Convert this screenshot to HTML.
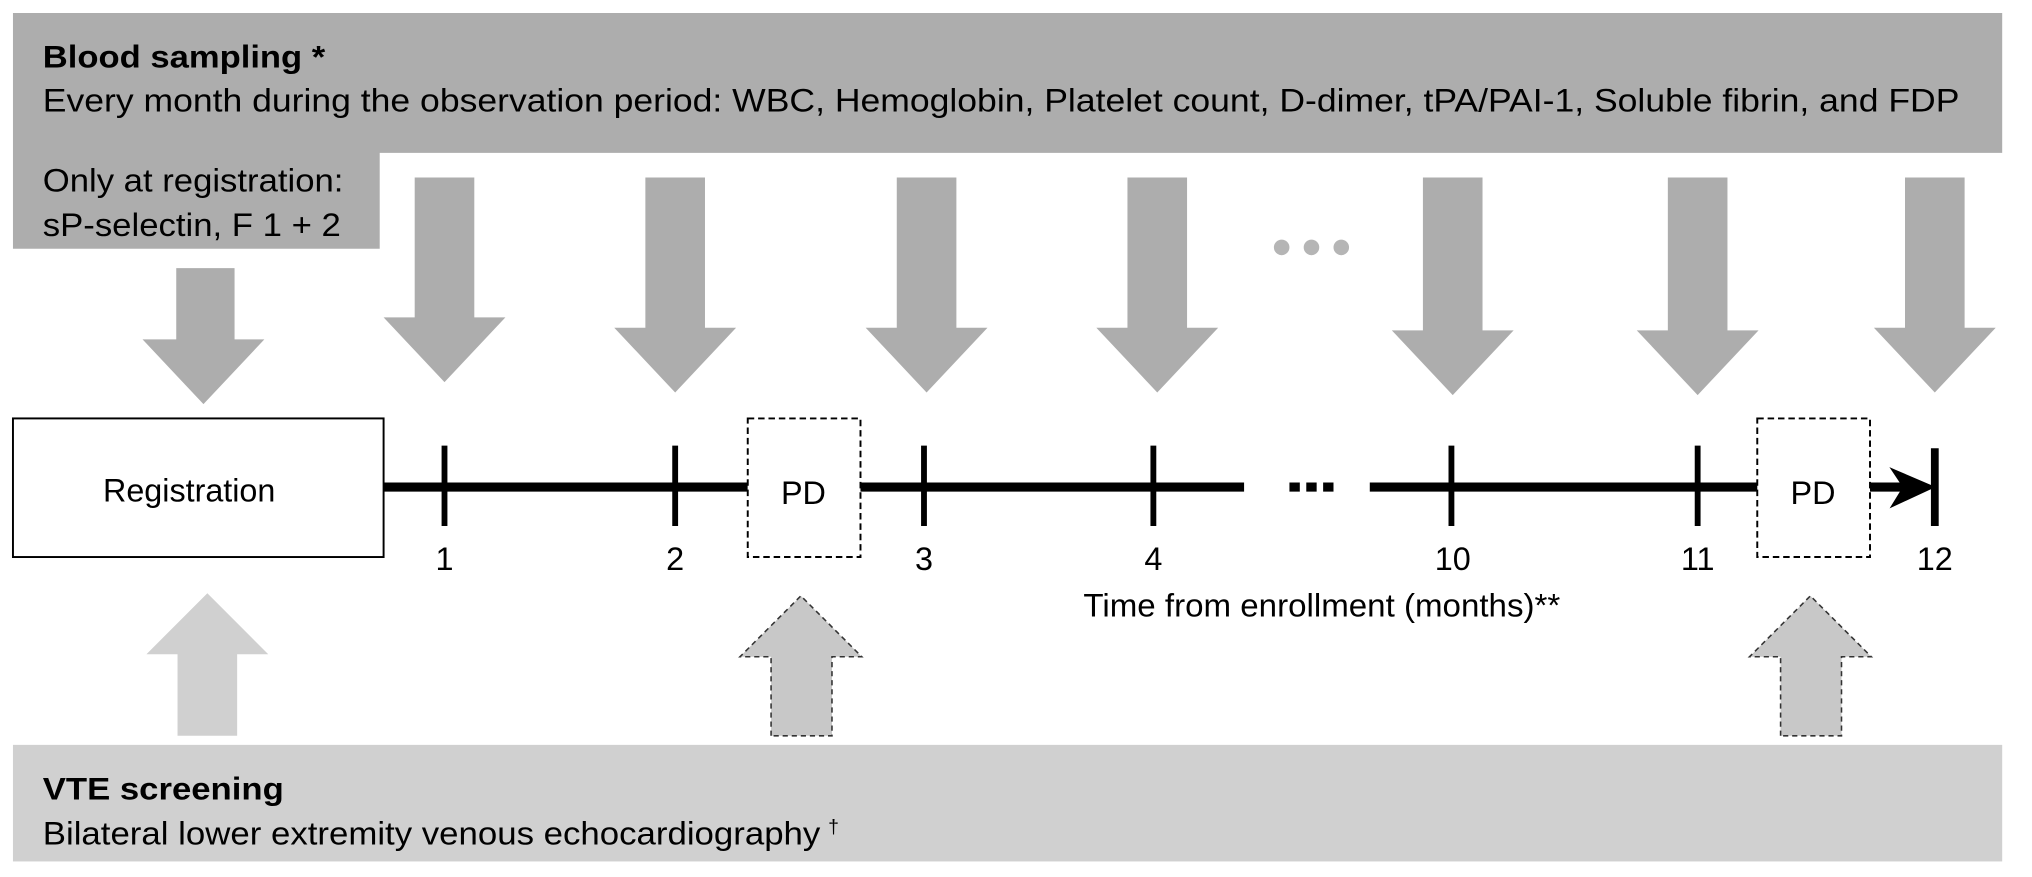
<!DOCTYPE html>
<html><head><meta charset="utf-8"><style>html,body{margin:0;padding:0;background:#fff;}svg{display:block}</style></head>
<body>
<svg width="2032" height="877" viewBox="0 0 1568 677" preserveAspectRatio="none" xmlns="http://www.w3.org/2000/svg" font-family="Liberation Sans, Arial, sans-serif">
<rect width="1568" height="677" fill="#fff"/>
<path d="M10 10H1545V118H293V192H10Z" fill="#adadad"/>
<text x="33" y="52" font-size="24" font-weight="bold" fill="#000" textLength="218" lengthAdjust="spacingAndGlyphs">Blood sampling *</text>
<text x="33" y="86" font-size="25" fill="#000" textLength="1479" lengthAdjust="spacingAndGlyphs">Every month during the observation period: WBC, Hemoglobin, Platelet count, D-dimer, tPA/PAI-1, Soluble fibrin, and FDP</text>
<text x="33" y="148" font-size="25" fill="#000" textLength="232" lengthAdjust="spacingAndGlyphs">Only at registration:</text>
<text x="33" y="182" font-size="25" fill="#000" textLength="230" lengthAdjust="spacingAndGlyphs">sP-selectin, F 1 + 2</text>
<path d="M136 207H181V262H204L157 312L110 262H136Z" fill="#adadad"/>
<g fill="#adadad">
<path d="M320 137H366V245H390L343 295L296 245H320Z"/>
<path d="M498 137H544V253H568L521 303L474 253H498Z"/>
<path d="M692 137H738V253H762L715 303L668 253H692Z"/>
<path d="M870 137H916V253H940L893 303L846 253H870Z"/>
<path d="M1098 137H1144V255H1168L1121 305L1074 255H1098Z"/>
<path d="M1287 137H1333V255H1357L1310 305L1263 255H1287Z"/>
<path d="M1470 137H1516V253H1540L1493 303L1446 253H1470Z"/>
</g>
<g fill="#b5b5b5"><circle cx="989" cy="191" r="6"/><circle cx="1012" cy="191" r="6"/><circle cx="1035" cy="191" r="6"/></g>
<rect x="10" y="323" width="286" height="107" fill="#fff" stroke="#000" stroke-width="1.5"/>
<text x="146" y="387" font-size="25" text-anchor="middle" textLength="133" lengthAdjust="spacingAndGlyphs">Registration</text>
<g stroke="#000" stroke-width="7" fill="none">
<path d="M296 376H577M664 376H960M1057 376H1357M1441 376H1472"/>
<path d="M995 376H1031" stroke-dasharray="8 5"/>
</g>
<path d="M1462 364L1490 376L1462 389L1470 376Z" fill="#000" stroke="#000" stroke-width="3"/>
<g stroke="#000" stroke-width="4.5">
<path d="M343 344V406M521 344V406M713 344V406M890 344V406M1120 344V406M1310 344V406"/>
<path d="M1493 346V406" stroke-width="6"/>
</g>
<g fill="#fff" stroke="#000" stroke-width="1.5" stroke-dasharray="5 3">
<rect x="577" y="323" width="87" height="107"/>
<rect x="1356" y="323" width="87" height="107"/>
</g>
<text x="620" y="389" font-size="25" text-anchor="middle">PD</text>
<text x="1399" y="389" font-size="25" text-anchor="middle">PD</text>
<g font-size="25" text-anchor="middle">
<text x="343" y="440">1</text><text x="521" y="440">2</text><text x="713" y="440">3</text><text x="890" y="440">4</text><text x="1121" y="440">10</text><text x="1310" y="440">11</text><text x="1493" y="440">12</text>
</g>
<text x="1020" y="476" font-size="25" text-anchor="middle" textLength="368" lengthAdjust="spacingAndGlyphs">Time from enrollment (months)**</text>
<path d="M137 568V505H113L160 458L207 505H183V568Z" fill="#d0d0d0"/>
<g fill="#c8c8c8" stroke="#333" stroke-width="1.2" stroke-dasharray="4 3">
<path d="M595 568V507H571L618 460L665 507H642V568Z"/>
<path d="M1374 568V507H1350L1397 460L1444 507H1421V568Z"/>
</g>
<rect x="10" y="575" width="1535" height="90" fill="#d0d0d0"/>
<text x="33" y="617" font-size="24" font-weight="bold" textLength="186" lengthAdjust="spacingAndGlyphs">VTE screening</text>
<text x="33" y="652" font-size="25"><tspan textLength="600" lengthAdjust="spacingAndGlyphs">Bilateral lower extremity venous echocardiography</tspan><tspan font-size="15" dx="6" dy="-9">†</tspan></text>
</svg>
</body></html>
